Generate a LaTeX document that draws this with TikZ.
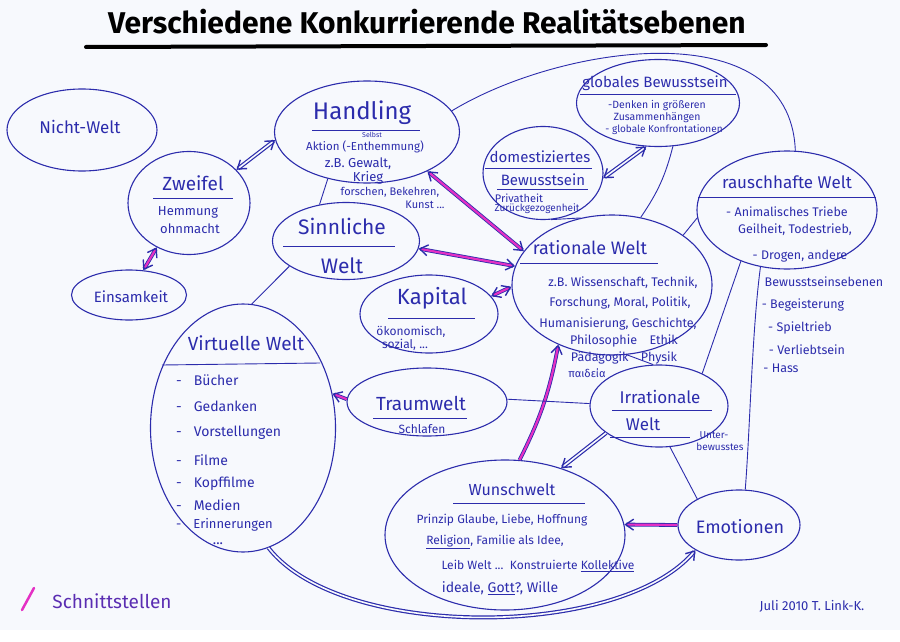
\documentclass[tikz,border=0pt]{standalone}
\usepackage{fontspec}
\setmainfont{Fira Sans}
\usetikzlibrary{shapes.geometric,arrows.meta}
\definecolor{ink}{RGB}{44,44,172}
\definecolor{mag}{RGB}{228,48,196}
\definecolor{paper}{RGB}{247,249,253}
\newcommand\myfs[1]{\fontsize{#1}{#1}\selectfont}
\tikzset{
  blob/.style={draw=ink, ellipse, line width=1.1pt, inner sep=0pt},
  txt/.style={text=ink, inner sep=0pt, font=\myfs{12}},
  rulel/.style={draw=ink, line width=0.9pt},
  conn/.style={draw=ink, line width=0.9pt},
  iface/.style={draw=ink, line width=0.8pt, double=mag, double distance=2.2pt},
  dbl/.style={draw=ink, line width=1.2pt, double=paper, double distance=1.6pt},
}
\begin{document}
\begin{tikzpicture}[x=1pt,y=-1pt,>={Straight Barb[length=8pt,width=11pt,line width=1.4pt]}]
\path[fill=paper] (0,0) rectangle (900,630);
% title
\node[inner sep=0pt, font=\myfs{30}\bfseries, text=black] (title) at (427,22) {Verschiedene Konkurrierende Realitätsebenen};
\draw[line width=4pt, black, line cap=round] (86,47) -- (766,45);

% ellipses
\node[blob, minimum width=150pt, minimum height=82pt] (nicht) at (82,130) {};
\node[blob, minimum width=122pt, minimum height=103pt] (zweifel) at (189,203) {};
\node[blob, minimum width=115pt, minimum height=50pt] (einsam) at (129,295) {};
\node[blob, minimum width=185pt, minimum height=102pt] (hand) at (367,132) {};
\node[blob, minimum width=163pt, minimum height=87pt] (global) at (658,103) {};
\node[blob, minimum width=120pt, minimum height=93pt] (dom) at (543,173) {};
\node[blob, minimum width=180pt, minimum height=118pt] (rausch) at (787,210) {};
\node[blob, minimum width=147pt, minimum height=77pt] (sinn) at (346,241) {};
\node[blob, minimum width=138pt, minimum height=78pt] (kap) at (429,314) {};
\node[blob, minimum width=200pt, minimum height=140pt] (rat) at (612,285) {};
\node[blob, minimum width=185pt, minimum height=248pt] (virt) at (243,428) {};
\node[blob, minimum width=160pt, minimum height=68pt] (traum) at (427,402) {};
\node[blob, minimum width=138pt, minimum height=82pt] (irr) at (659,406) {};
\node[blob, minimum width=240pt, minimum height=150pt] (wunsch) at (505,535) {};
\node[blob, minimum width=122pt, minimum height=70pt] (emo) at (739,525) {};

% texts
\node[txt, font=\myfs{17}] (tnicht) at (80,127) {Nicht-Welt};

\node[txt, font=\myfs{19}] (tzw) at (193,183) {Zweifel};
\draw[rulel] (153,198) -- (233,198);
\node[txt, font=\myfs{13}] (tzw2) at (188,212) {Hemmung};
\node[txt, font=\myfs{13}] (tzw3) at (190,229) {ohnmacht};

\node[txt, font=\myfs{15}] (tein) at (131,297) {Einsamkeit};

\node[txt, font=\myfs{24}] (thand) at (362,113) {Handling};
\draw[rulel] (312,130) -- (420,130);
\node[txt, font=\myfs{7}] (tselbst) at (372,135) {Selbst};
\node[txt, font=\myfs{11.5}] (thand2) at (365,147) {Aktion (-Enthemmung)};
\node[txt, font=\myfs{13}] (thand3) at (358,164) {z.B. Gewalt,};
\node[txt, font=\myfs{13}] (thand4) at (368,178) {Krieg};
\node[txt, font=\myfs{11}] (thand5) at (390,192) {forschen, Bekehren,};
\node[txt, font=\myfs{11}] (thand6) at (425,205) {Kunst ...};

\node[txt, font=\myfs{15}] (tglob) at (655,83) {globales Bewusstsein};
\draw[rulel] (580,94) -- (736,94);
\node[txt, font=\myfs{10.5}] (tglob2) at (657,106) {-Denken in größeren};
\node[txt, font=\myfs{10.5}] (tglob3) at (657,118) {Zusammenhängen};
\node[txt, font=\myfs{10}] (tglob4) at (664,130) {- globale Konfrontationen};

\node[txt, font=\myfs{15}] (tdom) at (540,157) {domestiziertes};
\draw[rulel] (485,168) -- (592,168);
\node[txt, font=\myfs{15}] (tdom2) at (543,180) {Bewusstsein};
\draw[rulel] (497,189) -- (588,189);
\node[txt, font=\myfs{11}] (tdom3) at (519,198) {Privatheit};
\node[txt, font=\myfs{10}] (tdom4) at (537,209) {Zurückgezogenheit};

\node[txt, font=\myfs{17}] (trau) at (787,182) {rauschhafte Welt};
\draw[rulel] (698,197) -- (876,197);
\node[txt, font=\myfs{12.5}] (trau2) at (787,212) {- Animalisches Triebe};
\node[txt, font=\myfs{12.5}] (trau3) at (795,230) {Geilheit, Todestrieb,};
\node[txt, font=\myfs{12.5}] (trau4) at (800,256) {- Drogen, andere};
\node[txt, font=\myfs{12.5}] (trau5) at (824,282) {Bewusstseinsebenen};
\node[txt, font=\myfs{12.5}] (trau6) at (803,305) {- Begeisterung};
\node[txt, font=\myfs{12.5}] (trau7) at (800,328) {- Spieltrieb};
\node[txt, font=\myfs{12.5}] (trau8) at (807,350) {- Verliebtsein};
\node[txt, font=\myfs{12.5}] (trau9) at (781,368) {- Hass};

\node[txt, font=\myfs{21}] (tsinn) at (342,226) {Sinnliche};
\draw[rulel] (283,246) -- (395,246);
\node[txt, font=\myfs{21}] (tsinn2) at (342,266) {Welt};

\node[txt, font=\myfs{22}] (tkap) at (432,298) {Kapital};
\draw[rulel] (388,318) -- (475,318);
\node[txt, font=\myfs{12}] (tkap2) at (411,332) {ökonomisch,};
\node[txt, font=\myfs{12}] (tkap3) at (405,345) {sozial, ...};

\node[txt, font=\myfs{18}] (trat) at (590,248) {rationale Welt};
\draw[rulel] (520,263) -- (658,263);
\node[txt, font=\myfs{12.5}] (trat2) at (623,283) {z.B. Wissenschaft, Technik,};
\node[txt, font=\myfs{12.5}] (trat3) at (620,303) {Forschung, Moral, Politik,};
\node[txt, font=\myfs{12.5}] (trat4) at (618,324) {Humanisierung, Geschichte,};
\node[txt, font=\myfs{12.5}] (trat5) at (624,341) {Philosophie\quad Ethik};
\node[txt, font=\myfs{12.5}] (trat6) at (624,358) {Pädagogik\quad Physik};
\node[txt, font=\myfs{11}] (trat7) at (587,373) {παιδεία};

\node[txt, font=\myfs{19}] (tvirt) at (246,343) {Virtuelle Welt};
\draw[rulel] (162,365) -- (320,363);
\node[txt, font=\myfs{14}, anchor=west] (tv1) at (176,380) {-\hspace{12pt}Bücher};
\node[txt, font=\myfs{14}, anchor=west] (tv2) at (176,406) {-\hspace{12pt}Gedanken};
\node[txt, font=\myfs{14}, anchor=west] (tv3) at (176,433) {-\hspace{12pt}Vorstellungen};
\node[txt, font=\myfs{14}, anchor=west] (tv4) at (176,460) {-\hspace{12pt}Filme};
\node[txt, font=\myfs{14}, anchor=west] (tv5) at (176,484) {-\hspace{12pt}Kopffilme};
\node[txt, font=\myfs{14}, anchor=west] (tv6) at (176,505) {-\hspace{12pt}Medien};
\node[txt, font=\myfs{13}, anchor=west] (tv7) at (176,525) {-\hspace{12pt}Erinnerungen};
\node[txt, font=\myfs{14}] (tv8) at (218,544) {...};

\node[txt, font=\myfs{19}] (ttraum) at (421,403) {Traumwelt};
\draw[rulel] (373,418) -- (467,418);
\node[txt, font=\myfs{12}] (ttraum2) at (422,429) {Schlafen};

\node[txt, font=\myfs{17}] (tirr) at (660,397) {Irrationale};
\draw[rulel] (612,410) -- (712,410);
\node[txt, font=\myfs{17}] (tirr2) at (643,424) {Welt};
\draw[rulel] (610,437) -- (690,437);
\node[txt, font=\myfs{10}] (tirr3) at (714,435) {Unter-};
\node[txt, font=\myfs{10}] (tirr4) at (720,447) {bewusstes};

\node[txt, font=\myfs{16}] (twun) at (512,490) {Wunschwelt};
\draw[rulel] (453,503) -- (585,503);
\node[txt, font=\myfs{12}] (twun2) at (502,520) {Prinzip Glaube, Liebe, Hoffnung};
\node[txt, font=\myfs{12}] (twun3) at (495,542) {\underline{Religion}, Familie als Idee,};
\node[txt, font=\myfs{12}] (twun4) at (538,566) {Leib Welt ...\ \ Konstruierte \underline{Kollektive}};
\node[txt, font=\myfs{14}] (twun5) at (500,588) {ideale, \underline{Gott}?, Wille};

\node[txt, font=\myfs{18}] (temo) at (740,527) {Emotionen};

\draw[mag, line width=2.5pt, line cap=round] (22,610) -- (34,588);
\node[txt, font=\myfs{19}, text=ink!75!mag] (tschn) at (112,601) {Schnittstellen};
\node[txt, font=\myfs{13}] (tdate) at (812,606) {Juli 2010 T. Link-K.};

% interfaces (magenta)
\draw[iface, <->] (zweifel.234) -- (einsam.60);
\draw[iface, <->] (hand.-33) -- (rat.159);
\draw[iface, <->] (sinn.-6) -- (rat.169);
\draw[iface, <->] (kap.16) -- (rat.181);
\draw[iface, ->] (traum.178) -- (virt.21);
\draw[iface, ->] (wunsch.79) to[bend right=8] (rat.228);
\draw[iface, ->] (emo.180) -- (wunsch.5);

% blue arrows
\draw[dbl, <->] (zweifel.35) -- (hand.185);
\draw[dbl, <->] (global.255) -- (dom.355);
\draw[dbl, ->] (irr.207) -- (wunsch.50);
\draw[dbl, ->] (virt.282) .. controls (340,640) and (620,640) .. (emo.210);

% plain connections
\draw[conn] (hand.230) -- (sinn.126);
\draw[conn] (sinn.204) -- (virt.86);
\draw[conn] (traum.2) -- (irr.178);
\draw[conn] (rausch.228) -- (irr.37);
\draw[conn] (rausch.245) .. controls (752,330) and (750,430) .. (emo.80);
\draw[conn] (irr.285) -- (emo.148);
\draw[conn] (rat.35) -- (rausch.185);
\draw[conn] (global.289) to[bend left=10] (rat.67);
\draw[conn] (hand.14) .. controls (560,45) and (790,10) .. (rausch.82);
\draw[conn] (dom.280) -- (rat.115);
\draw[conn] (rat.282) -- (irr.98);
\end{tikzpicture}
\end{document}
